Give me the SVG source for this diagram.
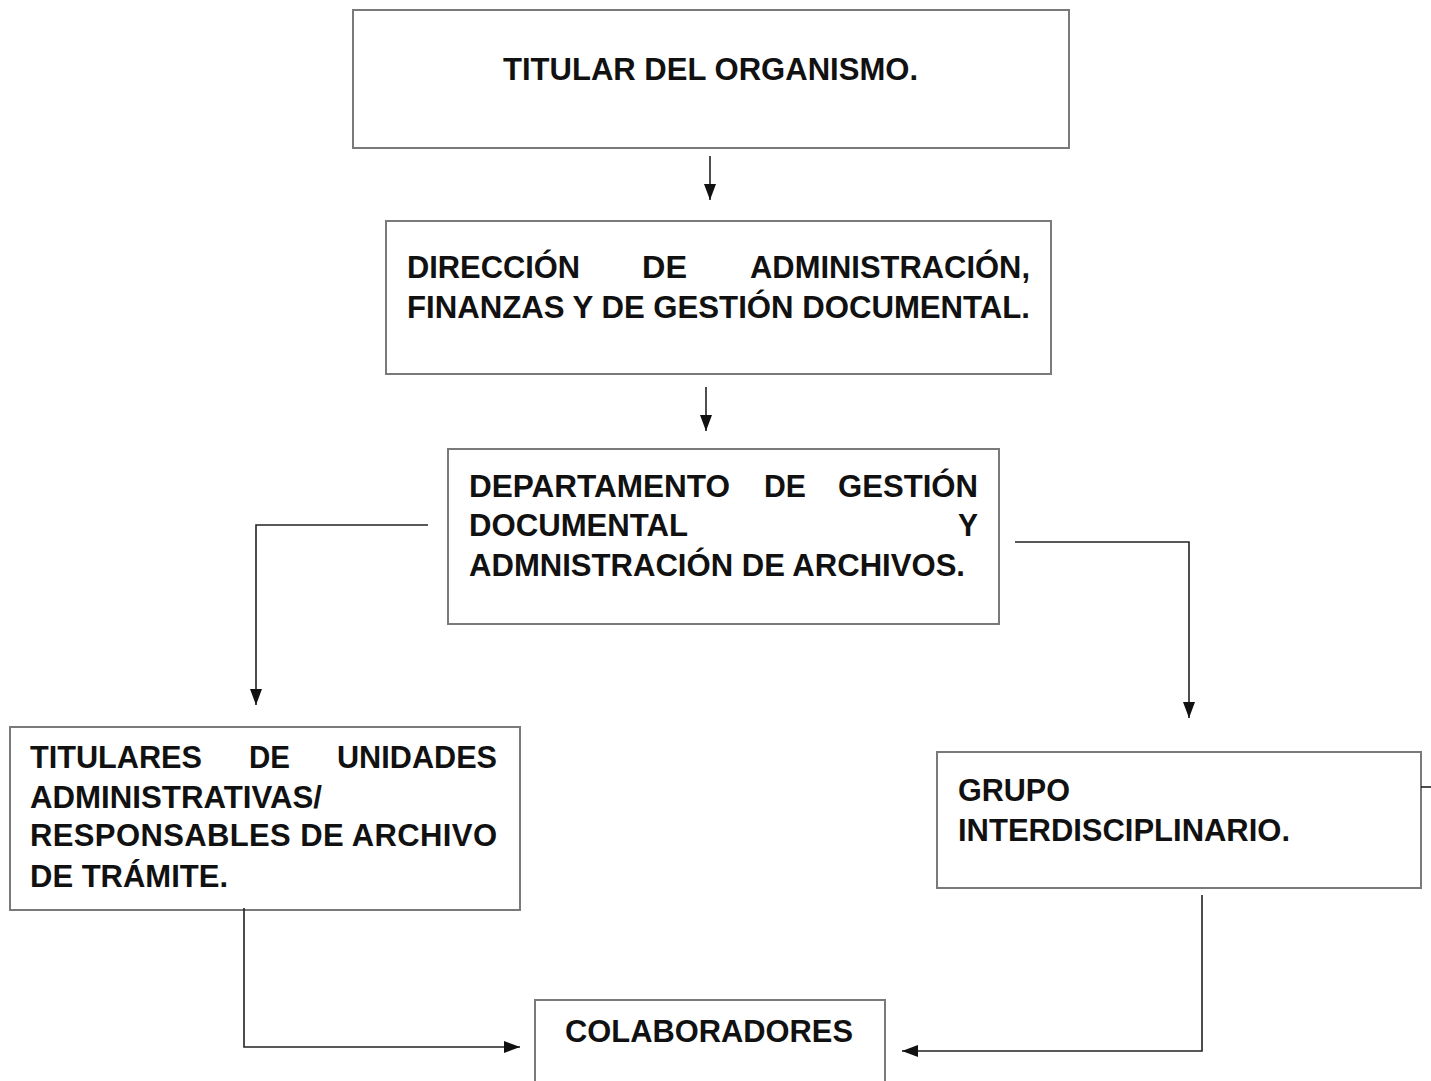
<svg xmlns="http://www.w3.org/2000/svg" width="1431" height="1081" viewBox="0 0 1431 1081">
<defs>
<marker id="ah" viewBox="0 0 16 12" refX="16" refY="6" markerWidth="16" markerHeight="12" markerUnits="userSpaceOnUse" orient="auto">
<path d="M0,0 L16,6 L0,12 z" fill="#111"/>
</marker>
<style>
.box{fill:#fff;stroke:#7a7a7a;stroke-width:2}
.n{font-family:"Liberation Sans Narrow","Liberation Sans",Arial,sans-serif;font-weight:bold;font-size:32px;fill:#111}
.w{font-family:"Liberation Sans",Arial,sans-serif;font-weight:bold;font-size:31px;fill:#111}
.c{fill:none;stroke:#222;stroke-width:1.6}
</style>
</defs>
<rect width="1431" height="1081" fill="#fff"/>
<g id="n1">
<rect class="box" x="353" y="10" width="716" height="138"/>
<text class="n" x="503" y="80" textLength="415" lengthAdjust="spacingAndGlyphs">TITULAR DEL ORGANISMO.</text>
</g>
<g id="n2">
<rect class="box" x="386" y="221" width="665" height="153"/>
<text class="n" x="407" y="278" textLength="173" lengthAdjust="spacingAndGlyphs">DIRECCIÓN</text>
<text class="n" x="642" y="278" textLength="45" lengthAdjust="spacingAndGlyphs">DE</text>
<text class="n" x="750" y="278" textLength="280" lengthAdjust="spacingAndGlyphs">ADMINISTRACIÓN,</text>
<text class="n" x="407" y="318" textLength="623" lengthAdjust="spacingAndGlyphs">FINANZAS Y DE GESTIÓN DOCUMENTAL.</text>
</g>
<g id="n3">
<rect class="box" x="448" y="449" width="551" height="175"/>
<text class="n" x="469" y="497" textLength="261" lengthAdjust="spacingAndGlyphs">DEPARTAMENTO</text>
<text class="n" x="764" y="497" textLength="42" lengthAdjust="spacingAndGlyphs">DE</text>
<text class="n" x="838" y="497" textLength="140" lengthAdjust="spacingAndGlyphs">GESTIÓN</text>
<text class="n" x="469" y="536" textLength="219" lengthAdjust="spacingAndGlyphs">DOCUMENTAL</text>
<text class="n" x="958" y="536" textLength="20" lengthAdjust="spacingAndGlyphs">Y</text>
<text class="n" x="469" y="576" textLength="496" lengthAdjust="spacingAndGlyphs">ADMNISTRACIÓN DE ARCHIVOS.</text>
</g>
<g id="n4">
<rect class="box" x="10" y="727" width="510" height="183"/>
<text class="w" x="30" y="768" textLength="172" lengthAdjust="spacingAndGlyphs">TITULARES</text>
<text class="w" x="249" y="768" textLength="41" lengthAdjust="spacingAndGlyphs">DE</text>
<text class="w" x="337" y="768" textLength="160" lengthAdjust="spacingAndGlyphs">UNIDADES</text>
<text class="w" x="30" y="808" textLength="292" lengthAdjust="spacingAndGlyphs">ADMINISTRATIVAS/</text>
<text class="w" x="30" y="846" textLength="467" lengthAdjust="spacing">RESPONSABLES DE ARCHIVO</text>
<text class="w" x="30" y="887" textLength="198" lengthAdjust="spacingAndGlyphs">DE TRÁMITE.</text>
</g>
<g id="n5">
<rect class="box" x="937" y="752" width="484" height="136"/>
<text class="w" x="958" y="801" textLength="112" lengthAdjust="spacingAndGlyphs">GRUPO</text>
<text class="w" x="958" y="841" textLength="332" lengthAdjust="spacingAndGlyphs">INTERDISCIPLINARIO.</text>
</g>
<g id="n6">
<rect class="box" x="535" y="1000" width="350" height="90"/>
<text class="n" x="565" y="1042" textLength="288" lengthAdjust="spacingAndGlyphs">COLABORADORES</text>
</g>
<g id="connectors">
<path class="c" d="M710,156 V200" marker-end="url(#ah)"/>
<path class="c" d="M706,387 V431" marker-end="url(#ah)"/>
<path class="c" d="M428,525 H256 V705" marker-end="url(#ah)"/>
<path class="c" d="M1015,542 H1189 V718" marker-end="url(#ah)"/>
<path class="c" d="M244,908 V1047 H520" marker-end="url(#ah)"/>
<path class="c" d="M1202,895 V1051 H902" marker-end="url(#ah)"/>
<path class="c" d="M1421,787 H1431"/>
</g>
</svg>
